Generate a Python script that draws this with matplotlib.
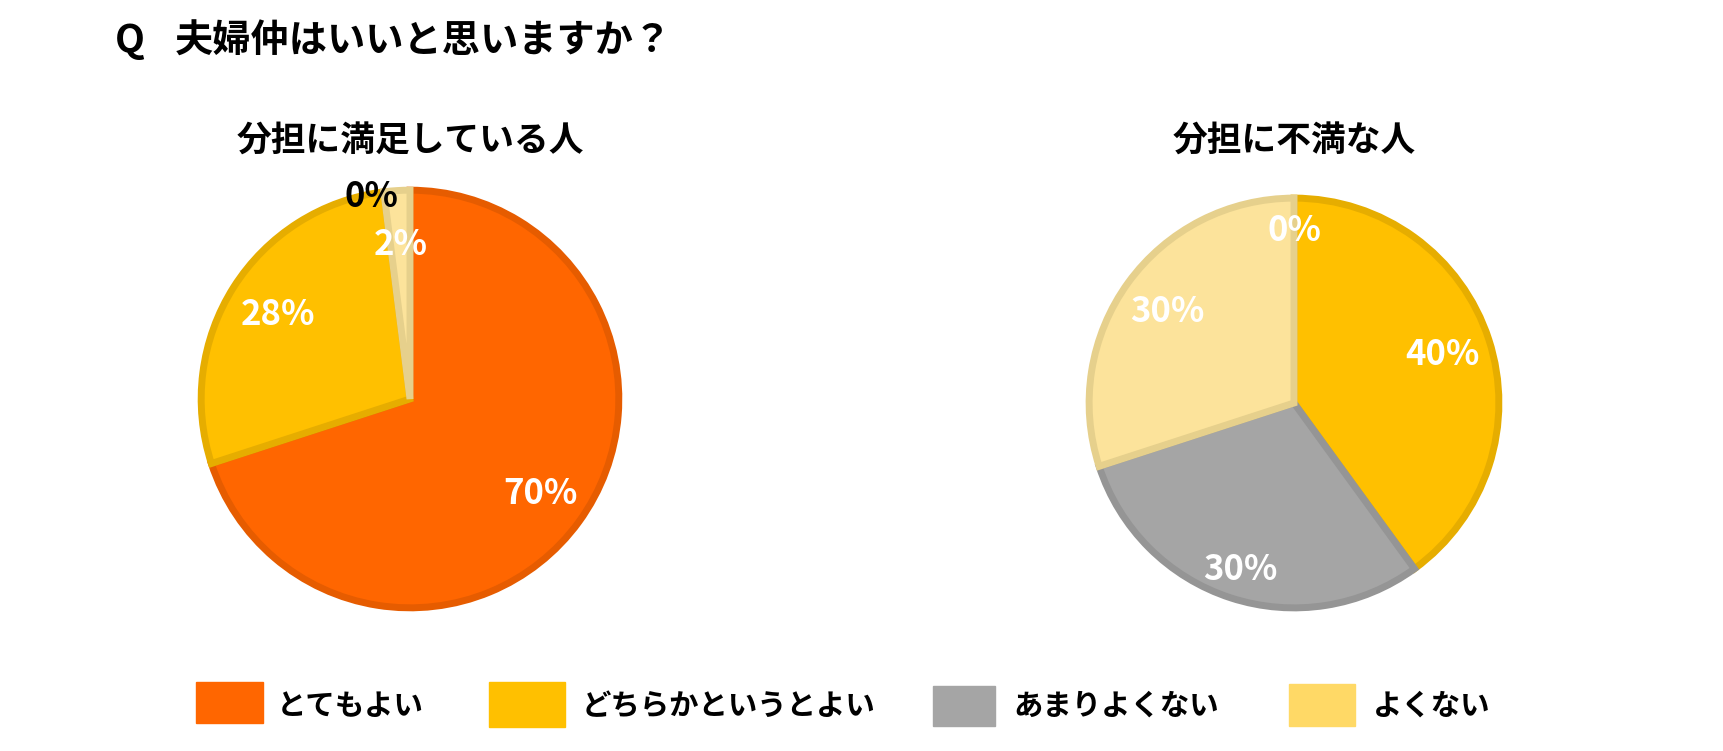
import numpy as np
import matplotlib
matplotlib.use('Agg')
import matplotlib.pyplot as plt
from matplotlib.patches import Rectangle

plt.rcParams['font.family'] = ['Noto Sans CJK JP', 'DejaVu Sans']

categories = ['とてもよい', 'どちらかというとよい', 'あまりよくない', 'よくない']
satisfied = [70, 28, 0, 2]
dissatisfied = [0, 40, 30, 30]
titles = ['分担に満足している人', '分担に不満な人']
question = '夫婦仲はいいと思いますか？'

fill_colors = ['#FF6600', '#FFC000', '#A5A5A5', '#FCE39B']
edge_colors = ['#E65C00', '#E6AD00', '#959595', '#E6D08C']
legend_colors = ['#FF6600', '#FFC000', '#A5A5A5', '#FFD966']

W, H = 1724, 751
fig = plt.figure(figsize=(W / 100, H / 100), dpi=100)


def fx(x):
    return x / W


def fy(y):
    return 1 - y / H


# title
fig.text(fx(115), fy(41), 'Q', fontsize=28, fontweight='bold', va='center', ha='left')
fig.text(fx(175), fy(41), question, fontsize=27.5, fontweight='bold', va='center', ha='left')

# pies: centre x, centre y, radius (pixels), label distances, label colours
pies = [
    (satisfied, titles[0], 410, 399, 212, [0.76, 0.74, 0.97, 0.73], ['white', 'white', 'black', 'white']),
    (dissatisfied, titles[1], 1294, 403, 208, [0.83, 0.75, 0.84, 0.75], ['white', 'white', 'white', 'white']),
]

for values, title, cx, cy, r, dists, tcolors in pies:
    ax = fig.add_axes([fx(cx - r), fy(cy + r), 2 * r / W, 2 * r / H])
    wedges, _ = ax.pie(values, colors=fill_colors, startangle=90, counterclock=False,
                       radius=0.985, wedgeprops=dict(linewidth=5))
    for w, ec, v in zip(wedges, edge_colors, values):
        w.set_edgecolor(ec)
        if v == 0:
            w.set_linewidth(0)
    for w, v, d, tc in zip(wedges, values, dists, tcolors):
        ang = np.deg2rad((w.theta1 + w.theta2) / 2)
        if tc == 'black':
            ang += np.deg2rad(3.5)
        ax.text(d * np.cos(ang), d * np.sin(ang), f'{v}%', color=tc, fontsize=25,
                fontweight='bold', ha='center', va='center')
    ax.set_xlim(-1, 1)
    ax.set_ylim(-1, 1)
    ax.set_aspect('equal')
    ax.axis('off')
    fig.text(fx(cx), fy(141), title, fontsize=25, fontweight='bold', ha='center', va='center')

# legend
legend_x = [196, 489, 933, 1289]
patch_w = [67, 76, 62, 66]
patch_top = [682, 682, 686, 684]
patch_bot = [723, 727, 726, 726]
text_x = [277, 582, 1013, 1373]
for lab, col, x0, pw, t, b, tx in zip(categories, legend_colors, legend_x, patch_w,
                                       patch_top, patch_bot, text_x):
    fig.patches.append(Rectangle((fx(x0), fy(b)), pw / W, (b - t) / H,
                                 transform=fig.transFigure, color=col))
    fig.text(fx(tx), fy(706), lab, fontsize=21.2, fontweight='bold', ha='left', va='center')

plt.savefig('out.png', dpi=100)
